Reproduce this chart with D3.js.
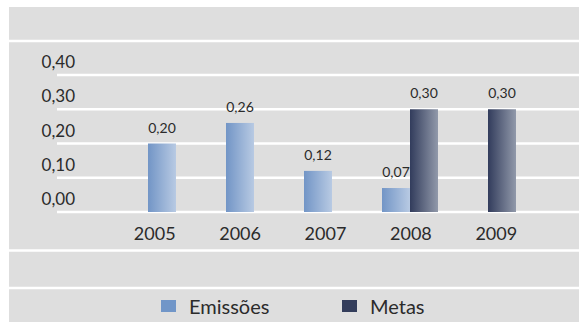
<!DOCTYPE html>
<html>
<head>
<meta charset="utf-8">
<script src="https://cdn.jsdelivr.net/npm/d3@7"></script>
<style>
  html, body { margin: 0; padding: 0; background: #ffffff; }
  svg { display: block; }
  text { font-family: Lato, "Open Sans", "DejaVu Sans", sans-serif; fill: #2b2b2b; }
</style>
</head>
<body>
<svg id="chart" width="579" height="322"></svg>
<script>
// Emissões vs. Metas por ano
const years = ["2005", "2006", "2007", "2008", "2009"];
const seriesNames = ["Emissões", "Metas"];
const emissoes = [0.20, 0.26, 0.12, 0.07, null];
const metas = [null, null, null, 0.30, 0.30];
const yTicks = [0, 0.1, 0.2, 0.3, 0.4];

const rows = years.map((y, i) => ({ year: y, values: [emissoes[i], metas[i]] }));

const W = 579, H = 322;
const svg = d3.select("#chart");
const fmt = v => d3.format(".2f")(v).replace(".", ",");

// Gradients for the two series
const defs = svg.append("defs");
function grad(id, c0, c1) {
  const g = defs.append("linearGradient").attr("id", id)
    .attr("x1", "0%").attr("x2", "100%").attr("y1", "0%").attr("y2", "0%");
  g.append("stop").attr("offset", "0%").attr("stop-color", c0);
  g.append("stop").attr("offset", "100%").attr("stop-color", c1);
}
grad("gEmissoes", "#7295c6", "#b8cae3");
grad("gMetas", "#323c5c", "#9199aa");
const fills = ["url(#gEmissoes)", "url(#gMetas)"];
const legendColors = ["#7196c8", "#333d5b"];

// Panel background
svg.append("rect").attr("x", 9).attr("y", 7).attr("width", W - 9).attr("height", H - 7)
  .attr("fill", "#dedede");

// Scales: bars use x0/x1, the category labels sit on a slightly wider band
const y = d3.scaleLinear().domain([0, 0.4]).range([212, 75]);
const x0 = d3.scaleBand().domain(years).range([137, 527]).padding(0);
const x1 = d3.scaleBand().domain(seriesNames)
  .range([(x0.step() - 56) / 2, (x0.step() + 56) / 2]).padding(0);
const xLabel = d3.scaleBand().domain(years).range([112, 539]).padding(0);

// Full-width separators
[41, 250.5, 288].forEach(py => {
  svg.append("line").attr("x1", 9).attr("x2", W).attr("y1", py).attr("y2", py)
    .attr("stroke", "#ffffff").attr("stroke-width", 2.5);
});

// Gridlines and y labels
const yAxis = svg.append("g");
yAxis.selectAll("line").data(yTicks).join("line")
  .attr("x1", 57).attr("x2", W)
  .attr("y1", d => y(d)).attr("y2", d => y(d))
  .attr("stroke", "#ffffff").attr("stroke-width", 2.5);
yAxis.selectAll("text").data(yTicks).join("text")
  .attr("x", 75).attr("y", d => y(d) - 7)
  .attr("text-anchor", "end").attr("font-size", 17)
  .text(d => fmt(d));

// Bars
const groups = svg.append("g").selectAll("g").data(rows).join("g")
  .attr("transform", d => `translate(${x0(d.year)},0)`);
const cells = groups.selectAll("g")
  .data(d => d.values.map((v, k) => ({ v, k, name: seriesNames[k] })).filter(e => e.v != null))
  .join("g");
cells.append("rect")
  .attr("x", d => x1(d.name)).attr("width", x1.bandwidth())
  .attr("y", d => y(d.v)).attr("height", d => y(0) - y(d.v))
  .attr("fill", d => fills[d.k]);
cells.append("text")
  .attr("x", d => x1(d.name) + x1.bandwidth() / 2)
  .attr("y", d => y(d.v) - 11)
  .attr("text-anchor", "middle").attr("font-size", 14)
  .text(d => fmt(d.v));

// Year labels
svg.append("g").selectAll("text").data(years).join("text")
  .attr("x", d => xLabel(d) + xLabel.bandwidth() / 2)
  .attr("y", 240)
  .attr("text-anchor", "middle").attr("font-size", 18)
  .text(d => d);

// Legend
const legendX = [161, 342];
const legend = svg.append("g").selectAll("g").data(seriesNames).join("g")
  .attr("transform", (d, i) => `translate(${legendX[i]},300)`);
legend.append("rect").attr("width", 15).attr("height", 12)
  .attr("fill", (d, i) => legendColors[i]);
legend.append("text").attr("x", 28).attr("y", 14).attr("font-size", 20).text(d => d);
</script>
</body>
</html>
